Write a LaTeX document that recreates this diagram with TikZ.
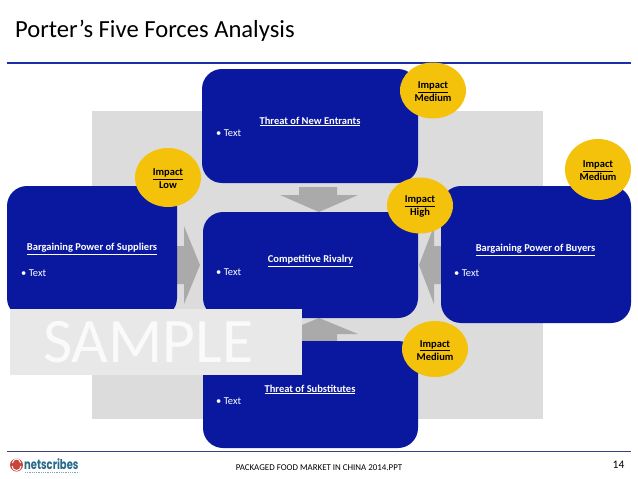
\documentclass[tikz,border=0pt]{standalone}
\usepackage{fontspec}
\setmainfont{Carlito}
\newfontfamily\logofont{Poppins}
\usepackage{tikz}
\usetikzlibrary{shapes.geometric}
\definecolor{boxblue}{RGB}{10,24,160}
\definecolor{impactyellow}{RGB}{244,194,10}
\definecolor{backgrey}{RGB}{220,220,220}
\definecolor{arrowgrey}{RGB}{170,170,170}
\definecolor{ruleblue}{RGB}{26,46,170}
\definecolor{footblue}{RGB}{60,64,128}
\definecolor{logoblue}{RGB}{40,105,135}
\definecolor{logored}{RGB}{200,70,60}
\newcommand{\impactlabel}[1]{\rule{0pt}{9.5pt}\underline{Impact}\\#1}
\tikzset{
    forcebox/.style={draw=none, fill=boxblue, rounded corners=20pt, inner sep=0pt},
    forcetitle/.style={text=white, font=\fontsize{10.5}{12}\selectfont\bfseries},
    bullettext/.style={text=white, font=\fontsize{10.5}{12}\selectfont, anchor=west, inner sep=0pt},
    impact/.style={ellipse, fill=impactyellow, inner sep=0pt, align=center,
        minimum width=66pt, font=\fontsize{10.5}{13}\selectfont\bfseries},
    blockarrow/.style={fill=arrowgrey}
}
\begin{document}
\begin{tikzpicture}[x=1pt, y=-1pt]

\useasboundingbox (0,0) rectangle (638,479);
\fill[white] (0,0) rectangle (638,479);


% Titol

\node[anchor=base west, inner sep=0pt, font=\fontsize{24.6}{30}\selectfont] (title) at (15,37.5)
    {Porter’s Five Forces Analysis};

\draw[
    line width=1.3pt,
    ruleblue
] (7,63) -- (631,63);


% Fons

\fill[backgrey] (92,111) rectangle (543,419);


% Fletxes

\fill[blockarrow] (299,187) -- (337,187) -- (337,195) -- (358,195)
    -- (319,212) -- (280,195) -- (299,195) -- cycle;
\fill[blockarrow] (299,341) -- (337,341) -- (337,334) -- (358,334)
    -- (319,318) -- (280,334) -- (299,334) -- cycle;
\fill[blockarrow] (177,246) -- (184,246) -- (184,226) -- (200,265)
    -- (184,304) -- (184,284) -- (177,284) -- cycle;
\fill[blockarrow] (441,246) -- (434,246) -- (434,226) -- (419,265)
    -- (434,304) -- (434,284) -- (441,284) -- cycle;


% Caixes

\node[forcebox, minimum width=216pt, minimum height=114pt] (entrants) at (310,126) {};
\node[forcebox, minimum width=215pt, minimum height=106pt] (rivalry) at (310.5,265) {};
\node[forcebox, minimum width=215pt, minimum height=107pt] (substitutes) at (310.5,394.5) {};
\node[forcebox, minimum width=170pt, minimum height=132pt] (suppliers) at (92,252) {};
\node[forcebox, minimum width=190pt, minimum height=137pt] (buyers) at (536,254.5) {};

\node[forcetitle] (entrantstitle) at (310,121.5) {\underline{Threat of New Entrants}};
\node[forcetitle] (rivalrytitle) at (310.5,261) {\underline{Competitive Rivalry}};
\node[forcetitle] (substitutestitle) at (310,389.5) {\underline{Threat of Substitutes}};
\node[forcetitle] (supplierstitle) at (92,249) {\underline{Bargaining Power of Suppliers}};
\node[forcetitle] (buyerstitle) at (535.5,250) {\underline{Bargaining Power of Buyers}};

\node[bullettext] (entrantstext) at (216,133.5) {•\ Text};
\node[bullettext] (rivalrytext) at (216,272.5) {•\ Text};
\node[bullettext] (substitutestext) at (216,401.5) {•\ Text};
\node[bullettext] (supplierstext) at (21,273.5) {•\ Text};
\node[bullettext] (buyerstext) at (454,273.5) {•\ Text};


% Impacte

\node[impact, minimum height=59pt] (impactlow) at (168,177.5) {\impactlabel{Low}};
\node[impact, minimum height=56pt] (impacttop) at (433,90.5) {\impactlabel{Medium}};
\node[impact, minimum height=61pt] (impactright) at (598,169.5) {\impactlabel{Medium}};
\node[impact, minimum height=56pt] (impacthigh) at (420,205.5) {\impactlabel{High}};
\node[impact, minimum height=56pt] (impactbottom) at (435,349) {\impactlabel{Medium}};


% Mostra

\fill[
    white!91!black
] (10,308.5) rectangle (302,375);

\node[anchor=base west, inner sep=0pt, text=white!98!black, font=\fontsize{63.5}{64}\selectfont] (sample) at (43,362.5)
    {SAMPLE};


% Peu

\draw[
    line width=1.3pt,
    footblue
] (7,451.5) -- (631,451.5);

\fill[logored] (16.5,465) circle (6.5pt);
\draw[white, line width=1pt] (12,466) arc (180:360:4.5pt);
\draw[white, line width=1pt] (12.5,463) arc (180:0:4pt);
\node[anchor=base west, inner sep=0pt, text=logoblue, font=\logofont\fontsize{13.5}{14}\selectfont\bfseries] (logo) at (24,469.5)
    {\scalebox{0.74}[1]{netscribes}};
\draw[logoblue!60, densely dotted, line width=0.8pt] (25,472.5) -- (79,472.5);

\node[anchor=base, inner sep=0pt, font=\fontsize{8.9}{10}\selectfont] (footer) at (319,470)
    {PACKAGED FOOD MARKET IN CHINA 2014.PPT};
\node[anchor=base, inner sep=0pt, font=\fontsize{11.5}{12}\selectfont] (pagenum) at (618.5,468.5)
    {14};

\end{tikzpicture}
\end{document}
